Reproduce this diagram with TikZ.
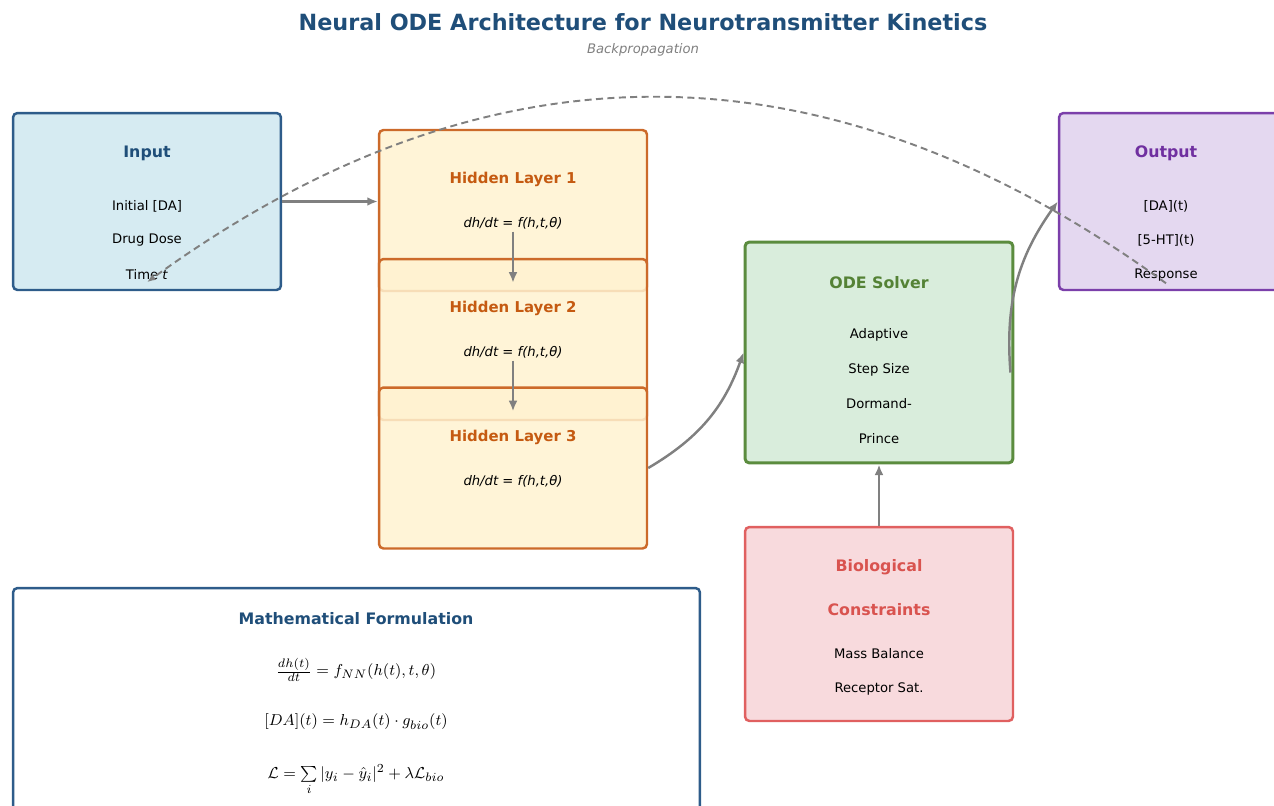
\documentclass[tikz,border=0pt]{standalone}
\usepackage{fontspec}
\setmainfont{DejaVu Sans}
\usepackage{amsmath}
\usetikzlibrary{arrows.meta,positioning,calc}
\definecolor{titleblue}{HTML}{1F4E79}
\definecolor{inputfill}{HTML}{D6EBF2}
\definecolor{inputline}{HTML}{2E5C8A}
\definecolor{hiddenfill}{HTML}{FFF2D0}
\definecolor{hiddenline}{HTML}{CC6A2A}
\definecolor{hiddentext}{HTML}{C55A11}
\definecolor{odefill}{HTML}{D9EDDC}
\definecolor{odeline}{HTML}{5B8C3E}
\definecolor{odetext}{HTML}{548235}
\definecolor{outfill}{HTML}{E4D8F0}
\definecolor{outline}{HTML}{7B3FAA}
\definecolor{outtext}{HTML}{7030A0}
\definecolor{biofill}{HTML}{F8DADD}
\definecolor{bioline}{HTML}{E06060}
\definecolor{biotext}{HTML}{D9534F}
\definecolor{arrowgray}{HTML}{808080}

\begin{document}
\begin{tikzpicture}[
    x=0.02cm, y=-0.02cm,
    box/.style={draw, rounded corners=2.5pt, line width=1.4pt, minimum width=5.36cm, minimum height=3.54cm},
    hiddenbox/.style={box, fill=hiddenfill, fill opacity=0.85, draw=hiddenline, minimum height=3.22cm},
    boxtitle/.style={font=\fontsize{9}{11}\selectfont\bfseries, inner sep=1pt},
    hiddentitle/.style={font=\fontsize{8.5}{10}\selectfont\bfseries, text=hiddentext, inner sep=1pt},
    bodytext/.style={font=\fontsize{7.5}{9}\selectfont, inner sep=1pt},
    formula/.style={font=\fontsize{9.5}{11}\selectfont, inner sep=1pt},
    flow/.style={-{Latex[length=6pt,width=5pt]}, line width=1.4pt, arrowgray},
    backflow/.style={-{Latex[length=5pt,width=4pt]}, dashed, dash pattern=on 4pt off 2.5pt, line width=1.1pt, arrowgray},
]
\useasboundingbox (0,0) rectangle (1274,805);

% === Title ===
\node[font=\fontsize{12.7}{15}\selectfont\bfseries, text=titleblue] (title) at (643,22) {Neural ODE Architecture for Neurotransmitter Kinetics};
\node[font=\fontsize{7.5}{9}\selectfont\itshape, text=arrowgray] (subtitle) at (643,50) {Backpropagation};

% === Input ===
\node[box, fill=inputfill, draw=inputline] (inp) at (147,201.5) {};
\node[boxtitle, text=titleblue] (inpt) at (147,153) {Input};
\foreach \txt [count=\i] in {Initial [DA], Drug Dose, Time \textit{t}}
    \node[bodytext] (inp-\i) at (147,171.5+34.5*\i) {\txt};

% === Hidden layers ===
\foreach \i/\y in {1/210.5, 2/339.5, 3/468}{
    \node[hiddenbox] (h\i) at (513,\y) {};
    \node[hiddentitle] (h\i t) at (513,\y-31) {Hidden Layer \i};
    \node[bodytext, font=\fontsize{7.5}{9}\selectfont\itshape] (f\i) at (513,\y+13) {dh/dt = f(h,t,θ)};
}

% === ODE solver ===
\node[box, fill=odefill, draw=odeline, line width=1.7pt, minimum height=4.42cm] (ode) at (879,352.5) {};
\node[boxtitle, text=odetext] (odet) at (879,283) {ODE Solver};
\foreach \txt [count=\i] in {Adaptive, Step Size, Dormand-, Prince}
    \node[bodytext] (ode-\i) at (879,300.5+34.5*\i) {\txt};

% === Output ===
\node[box, fill=outfill, draw=outline] (out) at (1193,201.5) {};
\node[boxtitle, text=outtext] (outt) at (1166,153) {Output};
\foreach \txt [count=\i] in {[DA](t), [5-HT](t), Response}
    \node[bodytext] (out-\i) at (1166,171.5+34.5*\i) {\txt};

% === Biological constraints ===
\node[box, fill=biofill, draw=bioline, minimum height=3.88cm] (bio) at (879,624) {};
\node[boxtitle, text=biotext] (biot1) at (879,567) {Biological};
\node[boxtitle, text=biotext] (biot2) at (879,610) {Constraints};
\node[bodytext] (bio-1) at (879,654) {Mass Balance};
\node[bodytext] (bio-2) at (879,689) {Receptor Sat.};

% === Mathematical formulation ===
\node[box, fill=white, draw=inputline, minimum width=13.74cm, minimum height=5.2cm] (math) at (356.5,718) {};
\node[boxtitle, text=titleblue] (matht) at (356,619) {Mathematical Formulation};
\node[formula] (eq1) at (356,670) {$\frac{dh(t)}{dt} = f_{NN}(h(t), t, \theta)$};
\node[formula] (eq2) at (356,722) {$[DA](t) = h_{DA}(t)\cdot g_{bio}(t)$};
\node[formula, anchor=north] (eq3) at (356,762) {$\mathcal{L} = \sum\limits_i |y_i - \hat{y}_i|^2 + \lambda\mathcal{L}_{bio}$};

% === Forward flow ===
\draw[flow] (inp.east) -- (inp.east -| h1.west);
\draw[flow] (f1.south) -- ([yshift=-0.5cm]h2.north);
\draw[flow] (f2.south) -- ([yshift=-0.5cm]h3.north);
\draw[flow] (h3.east) to[bend right=20] (ode.west);
\draw[flow] ([xshift=-0.08cm,yshift=-0.4cm]ode.east) to[bend left=20] (out.west);
\draw[flow] (bio.north) -- (ode.south);

% Backpropagation (dashed, over the top)
\draw[backflow] (out-3.south) .. controls (826,36) and (488,35) .. (inp-3.south);

\end{tikzpicture}
\end{document}
